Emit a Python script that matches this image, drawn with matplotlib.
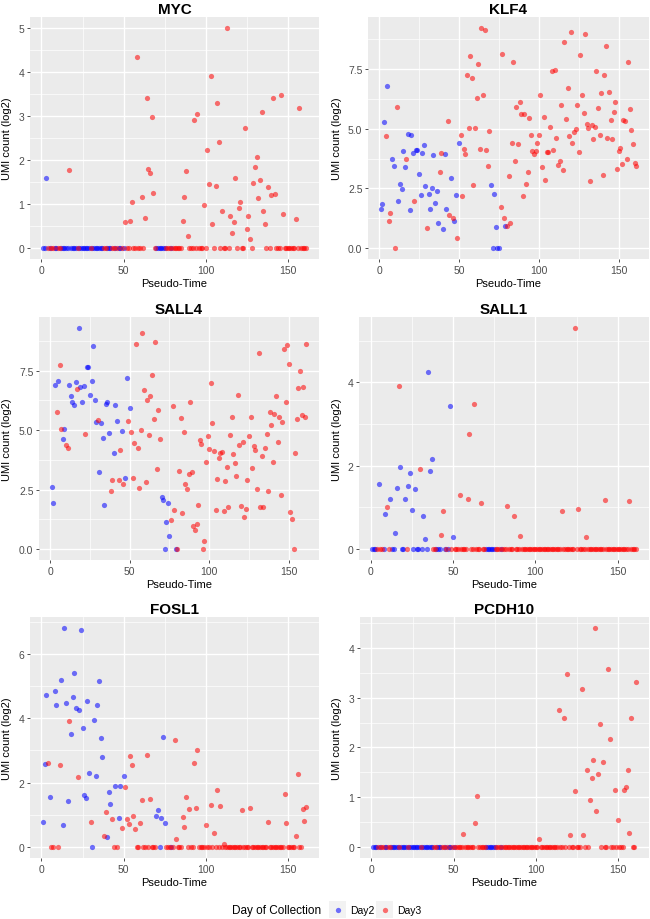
import matplotlib
matplotlib.use('Agg')
import matplotlib.pyplot as plt
from matplotlib.patches import Rectangle
from matplotlib.lines import Line2D
from matplotlib.ticker import AutoMinorLocator

plt.rcParams['font.family'] = ['Liberation Sans', 'DejaVu Sans']

# pseudo-time of each cell, split by day of collection
DAY2_CELLS = [1, 2, 3, 5, 8, 9, 12, 13, 14, 15, 16, 18, 19, 20, 21, 23, 24, 25,
              26, 27, 28, 29, 31, 32, 33, 34, 35, 36, 37, 40, 41, 42, 45, 47,
              48, 50, 70, 71, 72, 73, 74, 75, 79]
DAY3_CELLS = [4, 6, 7, 10, 11, 17, 22, 30, 38, 39, 43, 44, 46, 49,
              51, 52, 53, 54, 55, 56, 57, 58, 59, 60, 61, 62, 63, 64, 65, 66,
              67, 68, 69, 76, 77, 78, 80, 81, 82, 83, 84, 85, 86, 87, 88, 89,
              90, 91, 92, 93, 94, 95, 96, 97, 98, 99, 100, 101, 102, 103, 104,
              105, 106, 107, 108, 109, 110, 111, 112, 113, 114, 115, 116, 117,
              118, 119, 120, 121, 122, 123, 124, 125, 126, 127, 128, 129, 130,
              131, 132, 133, 134, 135, 136, 137, 138, 139, 140, 141, 142, 143,
              144, 145, 146, 147, 148, 149, 150, 151, 152, 153, 154, 155, 156,
              157, 158, 159, 160, 161]

# non-zero UMI counts (log2) per cell; every other cell is 0
MYC_D2 = {3: 1.6}
MYC_D3 = {17: 1.78, 51: 0.6, 54: 0.62, 55: 1.05, 58: 4.33, 61: 1.15, 63: 0.68,
          64: 3.42, 65: 1.8, 66: 1.7, 67: 2.97, 68: 1.25, 86: 0.62, 87: 1.15,
          88: 1.75, 89: 0.28, 93: 2.92, 95: 3.05, 99: 0.97, 101: 2.22,
          102: 1.45, 103: 3.9, 104: 0.55, 106: 1.42, 107: 3.3, 108: 2.42,
          110: 0.85, 113: 5.0, 115: 0.73, 116: 0.33, 117: 0.58, 118: 1.58,
          120: 0.9, 121: 1.05, 124: 2.73, 125: 0.43, 126: 0.73, 127: 0.2,
          129: 1.48, 130: 1.83, 131: 2.07, 132: 1.13, 133: 1.55, 134: 3.08,
          135: 0.85, 136: 0.55, 138: 1.38, 140: 1.2, 141: 3.42, 142: 1.22,
          146: 3.47, 147: 0.77, 155: 0.67, 157: 3.18}

KLF4_D2 = {1: 1.65, 2: 1.83, 3: 5.3, 5: 6.78, 8: 3.72, 9: 3.42, 12: 1.97,
           13: 2.68, 14: 2.48, 15: 4.08, 16: 3.4, 18: 4.78, 19: 1.6, 20: 4.72,
           21: 3.97, 23: 4.1, 24: 4.1, 25: 3.12, 26: 2.22, 27: 3.97, 28: 4.33,
           29: 2.58, 31: 2.27, 32: 1.65, 33: 2.5, 34: 3.9, 35: 1.88, 36: 2.38,
           37: 1.03, 40: 0.8, 41: 3.92, 42: 1.65, 45: 2.92, 47: 1.15, 48: 2.22,
           50: 4.38, 70: 2.65, 72: 2.27, 73: 0.88, 79: 0.92}
KLF4_D3 = {4: 4.68, 6: 1.15, 7: 1.45, 11: 5.9, 17: 3.72, 22: 1.97, 30: 0.85,
           38: 3.17, 39: 3.97, 43: 5.32, 44: 1.37, 46: 1.25, 49: 0.4, 51: 4.75,
           52: 2.2, 53: 4.15, 54: 3.95, 55: 7.25, 56: 5.03, 57: 8.03, 58: 7.12,
           59: 2.62, 60: 5.05, 61: 6.28, 62: 7.73, 63: 4.13, 64: 9.22, 65: 6.4,
           66: 9.13, 67: 4.1, 68: 3.42, 69: 4.92, 76: 1.7, 77: 8.12, 78: 1.25,
           80: 0.92, 81: 3.0, 82: 1.05, 83: 4.4, 84: 7.8, 85: 3.65, 86: 5.9,
           87: 4.35, 88: 6.1, 89: 5.6, 90: 2.2, 91: 5.6, 92: 2.7, 93: 3.18,
           94: 5.45, 95: 4.75, 96: 4.05, 97: 3.95, 98: 4.08, 99: 4.4,
           100: 4.72, 101: 6.43, 102: 3.38, 103: 5.5, 104: 2.87, 105: 4.02,
           106: 4.02, 107: 5.07, 108: 7.42, 109: 4.1, 110: 7.48, 111: 4.6,
           112: 3.48, 113: 3.65, 114: 5.98, 115: 3.25, 116: 8.65, 117: 5.4,
           118: 6.7, 119: 4.7, 120: 9.07, 121: 4.42, 122: 4.87, 123: 4.98,
           124: 6.0, 125: 4.03, 126: 8.1, 127: 6.43, 128: 5.65, 129: 8.97,
           130: 5.2, 131: 5.05, 132: 2.8, 133: 5.17, 134: 4.55, 135: 5.07,
           136: 7.4, 137: 5.85, 138: 4.75, 139: 6.5, 140: 3.05, 141: 7.25,
           142: 8.47, 143: 4.62, 144: 6.53, 145: 5.38, 146: 4.57, 147: 5.72,
           148: 6.12, 149: 3.32, 150: 4.05, 151: 4.2, 152: 3.52, 153: 5.38,
           154: 5.32, 155: 3.72, 156: 7.8, 157: 5.82, 158: 4.93, 159: 4.37,
           160: 3.58, 161: 3.42}

SALL4_D2 = {1: 2.62, 2: 1.92, 3: 6.9, 5: 7.05, 8: 4.62, 9: 5.05, 12: 6.92,
            13: 6.45, 14: 6.2, 15: 6.05, 16: 7.03, 18: 9.3, 19: 6.8, 20: 6.18,
            21: 6.85, 23: 7.65, 24: 7.65, 25: 6.48, 26: 7.07, 27: 8.55,
            28: 6.25, 29: 5.33, 31: 3.25, 32: 5.3, 33: 4.68, 34: 1.85,
            35: 6.12, 36: 6.2, 37: 4.87, 40: 4.05, 41: 6.07, 42: 5.4, 45: 4.95,
            47: 3.0, 48: 7.2, 50: 5.95, 70: 2.2, 71: 2.08, 73: 1.15, 74: 1.92,
            75: 0.55}
SALL4_D3 = {4: 5.77, 6: 7.75, 7: 5.05, 10: 4.37, 11: 4.23, 17: 6.75, 22: 4.83,
            30: 5.42, 38: 2.45, 39: 2.9, 43: 2.9, 44: 4.18, 46: 2.75, 49: 5.4,
            51: 4.93, 52: 2.98, 53: 4.48, 54: 8.62, 55: 4.27, 56: 2.58,
            57: 5.0, 58: 9.1, 59: 6.68, 60: 2.83, 61: 6.27, 62: 4.78, 63: 6.45,
            64: 7.33, 65: 5.45, 66: 8.72, 67: 3.38, 68: 5.87, 69: 4.62,
            76: 1.23, 77: 6.02, 78: 1.65, 81: 3.3, 82: 5.52, 83: 1.52,
            84: 4.93, 85: 2.72, 86: 2.52, 87: 3.15, 88: 6.18, 89: 3.25,
            90: 0.97, 91: 0.8, 92: 1.05, 93: 1.85, 94: 4.6, 95: 4.42, 97: 0.33,
            98: 3.67, 99: 4.77, 100: 4.2, 101: 6.97, 102: 5.3, 103: 4.12,
            104: 1.65, 105: 2.93, 106: 3.82, 107: 4.03, 108: 4.1, 109: 1.58,
            110: 2.85, 111: 3.43, 112: 1.77, 113: 4.78, 114: 5.55, 115: 3.98,
            116: 3.63, 117: 3.08, 118: 6.48, 119: 4.38, 120: 1.8, 121: 4.52,
            122: 1.33, 123: 1.68, 124: 2.92, 125: 4.75, 126: 5.57, 127: 3.4,
            128: 4.35, 129: 4.17, 130: 2.53, 131: 8.27, 132: 1.77, 133: 3.9,
            134: 1.75, 135: 4.23, 136: 4.85, 137: 2.45, 138: 5.75, 139: 5.23,
            140: 3.67, 141: 5.67, 142: 6.42, 143: 4.5, 144: 5.57, 145: 2.27,
            146: 5.35, 147: 8.4, 148: 6.18, 149: 8.58, 150: 7.8, 151: 1.57,
            152: 1.27, 154: 4.03, 155: 5.48, 156: 6.78, 157: 7.5, 158: 5.65,
            159: 6.8, 160: 5.55, 161: 8.62}

SALL1_D2 = {5: 1.55, 9: 0.85, 12: 1.2, 15: 0.38, 16: 1.47, 18: 1.97, 21: 1.2,
            23: 1.52, 24: 1.83, 25: 0.93, 27: 1.44, 32: 0.8, 33: 0.25,
            35: 4.25, 36: 1.87, 37: 2.17, 48: 3.42, 50: 0.28}
SALL1_D3 = {10: 1.0, 17: 3.9, 30: 1.92, 43: 0.33, 44: 0.9, 54: 1.3, 59: 1.2,
            60: 2.75, 63: 3.47, 67: 1.1, 83: 1.04, 87: 0.78, 91: 0.32,
            116: 0.92, 124: 5.3, 126: 0.97, 131: 0.28, 142: 1.17, 157: 1.15}

FOSL1_D2 = {1: 0.77, 2: 2.58, 3: 4.71, 5: 1.54, 8: 4.85, 9: 4.42, 12: 5.17,
            13: 0.67, 14: 6.8, 15: 4.48, 16: 1.42, 18: 3.52, 19: 4.65,
            20: 5.41, 21: 4.32, 23: 4.26, 24: 6.73, 25: 3.7, 26: 1.6, 27: 1.51,
            28: 4.52, 29: 2.29, 32: 3.94, 33: 2.21, 34: 4.41, 35: 5.16,
            36: 3.39, 37: 2.79, 40: 0.31, 41: 1.71, 42: 1.35, 45: 1.91,
            47: 0.9, 48: 1.89, 50: 2.2, 70: 0.96, 71: 1.16, 73: 0.91, 74: 3.41,
            75: 0.75}
FOSL1_D3 = {4: 2.62, 11: 2.56, 17: 3.9, 22: 2.18, 30: 0.78, 38: 0.34, 39: 1.1,
            43: 0.86, 49: 0.58, 51: 1.86, 52: 0.86, 53: 0.71, 54: 2.82,
            55: 2.55, 56: 0.95, 57: 0.57, 60: 0.75, 61: 1.47, 64: 2.85,
            66: 1.5, 81: 3.32, 82: 0.26, 86: 0.92, 87: 0.62, 88: 1.54, 90: 1.18,
            93: 2.6, 94: 1.22, 95: 3.0, 100: 0.67, 103: 1.29, 105: 0.45,
            107: 1.78, 109: 1.28, 111: 0.1, 122: 1.16, 127: 1.22, 138: 0.78,
            148: 1.65, 149: 0.74, 155: 0.33, 156: 2.26, 159: 1.18, 160: 0.82,
            161: 1.23}

PCDH10_D2 = {}
PCDH10_D3 = {56: 0.26, 63: 0.49, 64: 1.03, 102: 0.16, 114: 2.75, 117: 2.6,
             119: 3.48, 121: 0.24, 124: 1.13, 128: 3.17, 129: 0.24, 131: 1.54,
             133: 0.95, 134: 1.39, 135: 1.74, 136: 4.4, 137: 0.72, 138: 1.47,
             139: 2.48, 141: 1.7, 144: 3.57, 145: 2.17, 148: 1.15, 150: 0.54,
             154: 1.15, 155: 1.21, 156: 1.55, 157: 0.28, 158: 2.59, 161: 3.32}

X_TICKS = [0, 50, 100, 150]
BLUE = '#0000FF'
RED = '#FF0000'

W, H = 650, 920


def px_box(left, top, right, bottom):
    return [left / W, 1 - bottom / H, (right - left) / W, (bottom - top) / H]


def panel(fig, box, title, d2, d3, yticks, ylabels, ylab_x):
    left, top, right, bottom = box
    ax = fig.add_axes(px_box(left, top, right, bottom))
    ax.set_facecolor('#EBEBEB')
    for s in ax.spines.values():
        s.set_visible(False)

    y2 = [d2.get(t, 0.0) for t in DAY2_CELLS]
    y3 = [d3.get(t, 0.0) for t in DAY3_CELLS]
    ax.scatter(DAY2_CELLS, y2, s=14, c=BLUE, alpha=0.55, linewidths=0, zorder=3)
    ax.scatter(DAY3_CELLS, y3, s=14, c=RED, alpha=0.55, linewidths=0, zorder=3)
    ax.margins(0.05)

    ax.set_xticks(X_TICKS)
    ax.set_yticks(yticks)
    ax.set_yticklabels(ylabels)
    ax.xaxis.set_minor_locator(AutoMinorLocator(2))
    ax.yaxis.set_minor_locator(AutoMinorLocator(2))
    ax.grid(which='major', color='white', linewidth=1.0, zorder=0)
    ax.grid(which='minor', color='white', linewidth=0.5, zorder=0)
    ax.set_axisbelow(True)
    ax.tick_params(which='major', length=2.5, width=0.6, color='#333333',
                   labelcolor='#4D4D4D', labelsize=7.5, pad=1.5)
    ax.tick_params(which='minor', length=0)

    ax.set_title(title, fontsize=11, fontweight='bold', pad=3)
    ax.set_xlabel('Pseudo-Time', fontsize=8)
    ax.set_ylabel('UMI count (log2)', fontsize=8)
    h = bottom - top
    w = right - left
    ax.xaxis.set_label_coords(0.5, -19 / h)
    ax.yaxis.set_label_coords((ylab_x - left) / w, 0.5)
    return ax


fig = plt.figure(figsize=(W / 100, H / 100), dpi=100)

panel(fig, (30, 18, 319, 260), 'MYC', MYC_D2, MYC_D3,
      [0, 1, 2, 3, 4, 5], ['0', '1', '2', '3', '4', '5'], 12)
panel(fig, (368, 18, 649, 260), 'KLF4', KLF4_D2, KLF4_D3,
      [0, 2.5, 5, 7.5], ['0.0', '2.5', '5.0', '7.5'], 342)
panel(fig, (39, 318, 319, 561), 'SALL4', SALL4_D2, SALL4_D3,
      [0, 2.5, 5, 7.5], ['0.0', '2.5', '5.0', '7.5'], 12)
panel(fig, (359, 318, 649, 561), 'SALL1', SALL1_D2, SALL1_D3,
      [0, 2, 4], ['0', '2', '4'], 342)
panel(fig, (30, 618, 319, 859), 'FOSL1', FOSL1_D2, FOSL1_D3,
      [0, 2, 4, 6], ['0', '2', '4', '6'], 12)
panel(fig, (360, 618, 649, 859), 'PCDH10', PCDH10_D2, PCDH10_D3,
      [0, 1, 2, 3, 4], ['0', '1', '2', '3', '4'], 342)

# legend at the bottom
fig.text(232 / W, 1 - 911 / H, 'Day of Collection', fontsize=8.5,
         ha='left', va='center')
for x0, color, label in [(329, BLUE, 'Day2'), (376, RED, 'Day3')]:
    fig.add_artist(Rectangle((x0 / W, 1 - 919 / H), 17 / W, 17 / H,
                             transform=fig.transFigure, facecolor='#F2F2F2',
                             edgecolor='none'))
    fig.add_artist(Line2D([(x0 + 8.5) / W], [1 - 910.5 / H],
                          transform=fig.transFigure, marker='o', markersize=3.8,
                          markerfacecolor=color, markeredgewidth=0,
                          alpha=0.55, linestyle='none'))
    fig.text((x0 + 21) / W, 1 - 911 / H, label, fontsize=7.5,
             ha='left', va='center')

fig.savefig('out.png', dpi=100)
